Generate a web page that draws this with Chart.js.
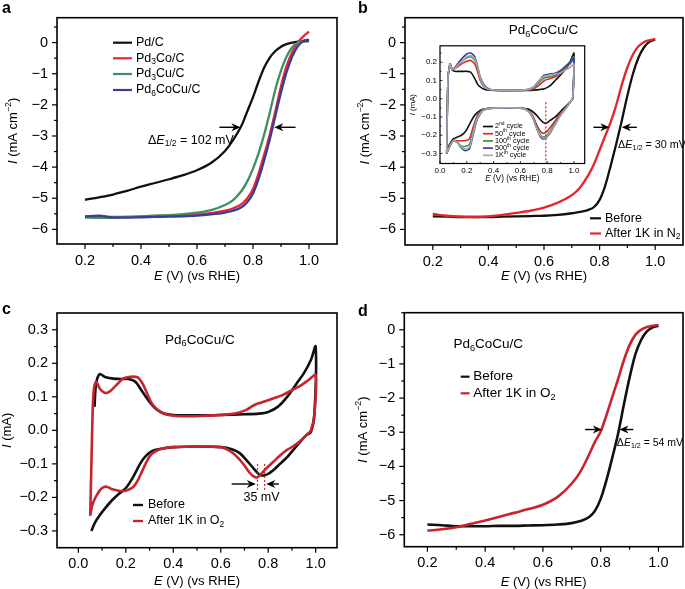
<!DOCTYPE html>
<html><head><meta charset="utf-8">
<script src="https://cdn.jsdelivr.net/npm/chart.js@4.4.1/dist/chart.umd.min.js"></script>
<style>
html,body{margin:0;padding:0;background:#fff;}
#wrap{position:relative;width:685px;height:589px;overflow:hidden;background:#fff;}
canvas{position:absolute;}
</style></head><body>
<div id="wrap">
<canvas id="ca" width="342" height="295" style="left:0px;top:0px"></canvas>
<canvas id="cb" width="343" height="295" style="left:342px;top:0px"></canvas>
<canvas id="cc" width="342" height="294" style="left:0px;top:295px"></canvas>
<canvas id="cd" width="343" height="294" style="left:342px;top:295px"></canvas>
<canvas id="ci" width="195" height="152" style="left:395px;top:38px"></canvas>
</div>
<script>
// ---------------- DATA ----------------
// Panel a : ORR polarization curves
const A_E = [0.2,0.25,0.3,0.35,0.4,0.45,0.5,0.55,0.6,0.65,0.7,0.73,0.76,0.78,0.8,0.82,0.84,0.86,0.88,0.9,0.92,0.94,0.96,0.98,1.0];
const A_PD = [-5.05,-4.97,-4.88,-4.76,-4.63,-4.51,-4.39,-4.26,-4.1,-3.87,-3.48,-3.12,-2.65,-2.2,-1.75,-1.25,-0.8,-0.48,-0.27,-0.13,-0.05,0.0,0.03,0.04,0.05];
const A_PD3CO = [-5.58,-5.58,-5.6,-5.6,-5.59,-5.57,-5.56,-5.54,-5.52,-5.48,-5.4,-5.32,-5.18,-5.0,-4.7,-4.2,-3.6,-2.95,-2.2,-1.4,-0.75,-0.3,0.0,0.2,0.35];
const A_PD3CU = [-5.62,-5.63,-5.62,-5.6,-5.58,-5.56,-5.54,-5.51,-5.46,-5.38,-5.22,-5.05,-4.75,-4.45,-4.05,-3.55,-2.95,-2.25,-1.5,-0.9,-0.45,-0.15,0.0,0.06,0.08];
const A_PD6COCU = [-5.58,-5.56,-5.62,-5.62,-5.61,-5.6,-5.59,-5.58,-5.56,-5.52,-5.46,-5.4,-5.28,-5.12,-4.85,-4.38,-3.78,-3.1,-2.35,-1.6,-0.95,-0.45,-0.12,0.05,0.1];

// Panel b : before / after 1K cycles in N2
const B_E = [0.2,0.25,0.3,0.35,0.4,0.45,0.5,0.55,0.6,0.65,0.7,0.73,0.76,0.78,0.8,0.82,0.84,0.86,0.88,0.9,0.92,0.94,0.96,0.98,1.0];
const B_BEFORE = [-5.58,-5.59,-5.6,-5.6,-5.6,-5.59,-5.58,-5.57,-5.56,-5.53,-5.48,-5.44,-5.37,-5.28,-5.05,-4.6,-3.95,-3.25,-2.5,-1.7,-1.0,-0.48,-0.15,0.03,0.1];
const B_AFTER = [-5.5,-5.56,-5.59,-5.6,-5.58,-5.53,-5.47,-5.4,-5.3,-5.14,-4.9,-4.65,-4.25,-3.9,-3.45,-3.0,-2.55,-2.0,-1.35,-0.8,-0.38,-0.12,0.02,0.08,0.12];

// Panel b inset : CVs over cycling (anodic sweep then cathodic sweep)
const INSET_AN_E = [0.05,0.06,0.075,0.09,0.11,0.14,0.17,0.2,0.23,0.26,0.28,0.3,0.33,0.37,0.45,0.55,0.65,0.7,0.74,0.78,0.82,0.86,0.9,0.94,0.97,1.0];
const INSET_CA_E = [0.99,0.97,0.94,0.9,0.86,0.82,0.79,0.77,0.75,0.72,0.69,0.66,0.62,0.55,0.45,0.37,0.32,0.28,0.25,0.22,0.19,0.16,0.13,0.1,0.08,0.06,0.05];
const C2_AN = [-0.30,0.12,0.19,0.16,0.15,0.15,0.15,0.15,0.145,0.11,0.08,0.065,0.052,0.046,0.045,0.045,0.045,0.047,0.05,0.055,0.07,0.1,0.13,0.165,0.2,0.25];
const C2_CA = [0.0,-0.02,-0.04,-0.07,-0.1,-0.12,-0.135,-0.13,-0.115,-0.09,-0.07,-0.057,-0.052,-0.05,-0.05,-0.052,-0.058,-0.075,-0.1,-0.14,-0.18,-0.2,-0.21,-0.22,-0.24,-0.27,-0.30];
const C50_AN = [-0.30,0.12,0.19,0.16,0.165,0.18,0.195,0.205,0.21,0.19,0.15,0.1,0.065,0.05,0.045,0.045,0.047,0.055,0.075,0.1,0.11,0.12,0.14,0.17,0.19,0.22];
const C50_CA = [0.0,-0.02,-0.05,-0.08,-0.12,-0.16,-0.185,-0.19,-0.18,-0.14,-0.09,-0.065,-0.053,-0.05,-0.05,-0.052,-0.06,-0.09,-0.15,-0.22,-0.23,-0.23,-0.23,-0.23,-0.25,-0.28,-0.30];
const C100_AN = [-0.30,0.12,0.19,0.16,0.17,0.19,0.21,0.225,0.23,0.21,0.17,0.11,0.07,0.05,0.045,0.045,0.048,0.06,0.09,0.115,0.12,0.13,0.15,0.175,0.2,0.23];
const C100_CA = [0.0,-0.02,-0.05,-0.09,-0.13,-0.18,-0.205,-0.21,-0.2,-0.15,-0.1,-0.068,-0.053,-0.05,-0.05,-0.053,-0.062,-0.1,-0.17,-0.25,-0.26,-0.26,-0.24,-0.23,-0.25,-0.28,-0.30];
const C500_AN = [-0.30,0.12,0.19,0.16,0.17,0.2,0.225,0.245,0.25,0.23,0.18,0.12,0.075,0.052,0.045,0.045,0.05,0.065,0.1,0.13,0.135,0.14,0.155,0.18,0.2,0.22];
const C500_CA = [0.0,-0.02,-0.05,-0.09,-0.14,-0.19,-0.215,-0.22,-0.21,-0.16,-0.1,-0.07,-0.053,-0.05,-0.05,-0.053,-0.065,-0.11,-0.19,-0.275,-0.285,-0.27,-0.24,-0.23,-0.25,-0.28,-0.30];
const C1K_AN = [-0.30,0.12,0.19,0.16,0.165,0.19,0.21,0.23,0.235,0.22,0.175,0.115,0.07,0.05,0.045,0.045,0.05,0.065,0.1,0.125,0.13,0.135,0.14,0.16,0.17,0.19];
const C1K_CA = [0.0,-0.02,-0.05,-0.09,-0.14,-0.185,-0.21,-0.215,-0.205,-0.16,-0.1,-0.07,-0.053,-0.05,-0.05,-0.053,-0.065,-0.105,-0.18,-0.265,-0.275,-0.265,-0.24,-0.23,-0.25,-0.28,-0.30];

// Panel c : CV before / after 1K cycles in O2
const C_BEFORE_E = [0.068,0.075,0.09,0.11,0.14,0.18,0.21,0.24,0.27,0.3,0.33,0.36,0.4,0.5,0.6,0.7,0.76,0.8,0.84,0.88,0.92,0.95,0.98,1.0,0.995,0.98,0.96,0.94,0.91,0.88,0.85,0.82,0.8,0.78,0.76,0.74,0.71,0.68,0.65,0.6,0.5,0.4,0.35,0.31,0.28,0.26,0.23,0.2,0.17,0.14,0.11,0.09,0.07,0.055];
const C_BEFORE_I = [0.07,0.14,0.168,0.16,0.155,0.153,0.153,0.145,0.115,0.085,0.062,0.05,0.046,0.045,0.046,0.048,0.05,0.055,0.07,0.1,0.14,0.17,0.21,0.25,0.05,-0.005,-0.015,-0.03,-0.055,-0.08,-0.1,-0.12,-0.13,-0.135,-0.13,-0.115,-0.09,-0.068,-0.057,-0.05,-0.048,-0.05,-0.055,-0.062,-0.08,-0.1,-0.14,-0.172,-0.19,-0.21,-0.235,-0.253,-0.275,-0.3];
const C_AFTER_E = [0.05,0.055,0.06,0.065,0.075,0.09,0.11,0.13,0.16,0.19,0.22,0.25,0.27,0.29,0.31,0.34,0.38,0.45,0.55,0.62,0.67,0.71,0.74,0.78,0.82,0.86,0.9,0.94,0.97,1.0,0.995,0.98,0.96,0.93,0.9,0.88,0.85,0.82,0.79,0.77,0.755,0.74,0.72,0.7,0.67,0.64,0.6,0.5,0.4,0.35,0.31,0.29,0.27,0.25,0.23,0.2,0.17,0.14,0.12,0.1,0.08,0.06,0.05];
const C_AFTER_I = [-0.255,-0.1,0.05,0.12,0.145,0.125,0.112,0.115,0.135,0.155,0.16,0.158,0.14,0.11,0.08,0.058,0.046,0.042,0.044,0.047,0.052,0.062,0.075,0.085,0.095,0.105,0.12,0.135,0.15,0.165,0.05,0.0,-0.015,-0.035,-0.05,-0.058,-0.075,-0.095,-0.115,-0.13,-0.14,-0.138,-0.125,-0.105,-0.08,-0.062,-0.05,-0.048,-0.05,-0.055,-0.07,-0.09,-0.12,-0.15,-0.17,-0.18,-0.18,-0.175,-0.168,-0.172,-0.19,-0.22,-0.255];

// Panel d : before / after 1K cycles in O2
const D_E = [0.2,0.25,0.3,0.35,0.4,0.45,0.5,0.55,0.6,0.65,0.7,0.73,0.76,0.78,0.8,0.82,0.84,0.86,0.88,0.9,0.92,0.94,0.96,0.98,1.0];
const D_BEFORE = [-5.7,-5.72,-5.75,-5.75,-5.75,-5.74,-5.74,-5.73,-5.72,-5.7,-5.66,-5.6,-5.48,-5.3,-4.95,-4.4,-3.75,-3.05,-2.2,-1.4,-0.72,-0.3,-0.05,0.07,0.12];
const D_AFTER = [-5.88,-5.84,-5.78,-5.68,-5.58,-5.47,-5.36,-5.25,-5.12,-4.9,-4.5,-4.15,-3.65,-3.28,-2.98,-2.5,-1.97,-1.45,-0.9,-0.45,-0.15,0.0,0.08,0.12,0.14];

// Tick values and labels
const ORR_XTICKS = [0.2,0.4,0.6,0.8,1.0];
const ORR_XLABELS = ['0.2','0.4','0.6','0.8','1.0'];
const ORR_XMINOR = [0.3,0.5,0.7,0.9];
const ORR_YTICKS = [-6,-5,-4,-3,-2,-1,0];
const ORR_YLABELS = ['\u22126','\u22125','\u22124','\u22123','\u22122','\u22121','0'];
const ORR_YMINOR = [-5.5,-4.5,-3.5,-2.5,-1.5,-0.5,0.5];
const CV_XTICKS = [0,0.2,0.4,0.6,0.8,1.0];
const CV_XLABELS = ['0.0','0.2','0.4','0.6','0.8','1.0'];
const CV_XMINOR = [0.1,0.3,0.5,0.7,0.9];
const CV_YTICKS = [-0.3,-0.2,-0.1,0,0.1,0.2,0.3];
const CV_YLABELS = ['\u22120.3','\u22120.2','\u22120.1','0.0','0.1','0.2','0.3'];
const CV_YMINOR = [-0.25,-0.15,-0.05,0.05,0.15,0.25];
const IN_YTICKS = [-0.3,-0.2,-0.1,0,0.1,0.2];
const IN_YLABELS = ['\u22120.3','\u22120.2','\u22120.1','0.0','0.1','0.2'];
const IN_YMINOR = [-0.25,-0.15,-0.05,0.05,0.15,0.25];

// ---------------- DRAWING HELPERS ----------------
const FONT = '"Liberation Sans", Arial, Helvetica, sans-serif';
function pts(xs, ys) { return xs.map((x, i) => ({ x: x, y: ys[i] })); }
function measureRuns(ctx, parts, size) {
  return parts.map(p => {
    const t = p[0], st = (p[1] || '').split(' ');
    const small = st.includes('sub') || st.includes('sup');
    const fs = small ? size * 0.68 : size;
    const font = (st.includes('it') ? 'italic ' : '') + (st.includes('bold') ? 'bold ' : '') + fs + 'px ' + FONT;
    ctx.font = font;
    const dy = st.includes('sub') ? size * 0.28 : (st.includes('sup') ? -size * 0.36 : 0);
    return { t: t, font: font, dy: dy, w: ctx.measureText(t).width };
  });
}
function rich(ctx, parts, x, y, size, align, rot) {
  ctx.save();
  ctx.translate(x, y);
  if (rot) ctx.rotate(rot);
  const r = measureRuns(ctx, parts, size);
  const W = r.reduce((a, b) => a + b.w, 0);
  let cx = align === 'center' ? -W / 2 : (align === 'right' ? -W : 0);
  ctx.fillStyle = '#000'; ctx.textBaseline = 'middle'; ctx.textAlign = 'left';
  r.forEach(q => { ctx.font = q.font; ctx.fillText(q.t, cx, q.dy); cx += q.w; });
  ctx.restore();
}
function arrow(ctx, x1, x2, y) {
  const dir = Math.sign(x2 - x1), hl = 9, hw = 4;
  ctx.save(); ctx.strokeStyle = '#000'; ctx.fillStyle = '#000'; ctx.lineWidth = 1.4;
  ctx.beginPath(); ctx.moveTo(x1, y); ctx.lineTo(x2 - dir * hl * 0.7, y); ctx.stroke();
  ctx.beginPath(); ctx.moveTo(x2, y); ctx.lineTo(x2 - dir * hl, y - hw); ctx.lineTo(x2 - dir * hl * 0.7, y); ctx.lineTo(x2 - dir * hl, y + hw); ctx.closePath(); ctx.fill();
  ctx.restore();
}

function buildPanel(id, P) {
  const datasets = P.series.map((s, i) => ({
    label: s.name, data: pts(s.x, s.y), borderColor: s.color, backgroundColor: s.color,
    borderWidth: s.lw, pointRadius: 0, pointHoverRadius: 0, fill: false,
    tension: s.tension, cubicInterpolationMode: s.mono ? 'monotone' : 'default',
    order: P.series.length - i
  }));
  function axis(A, isX) {
    return {
      type: 'linear', min: A.min, max: A.max, bounds: 'data',
      grid: { display: false, drawTicks: false }, border: { display: false },
      ticks: { color: '#000', font: { family: FONT, size: P.tickSize }, padding: A.pad,
        autoSkip: false, maxRotation: 0, minRotation: 0, callback: (v, i) => A.labels[i] },
      afterBuildTicks: s => { s.ticks = A.ticks.map(v => ({ value: v })); },
      afterFit: s => { if (isX) s.height = A.size; else s.width = A.size; }
    };
  }
  const plugin = {
    id: 'deco_' + id,
    beforeDraw(chart) {
      if (P.whiteBg) {
        const a = chart.chartArea, c = chart.ctx;
        c.save(); c.fillStyle = '#fff'; c.fillRect(a.left, a.top, a.right - a.left, a.bottom - a.top); c.restore();
      }
    },
    afterDraw(chart) {
      const c = chart.ctx, a = chart.chartArea, sx = chart.scales.x, sy = chart.scales.y;
      c.save();
      c.strokeStyle = '#000'; c.lineWidth = P.tickW;
      const td = P.tickDir;
      const tk = (list, len, isX) => list.forEach(v => {
        c.beginPath();
        if (isX) { const p = sx.getPixelForValue(v); c.moveTo(p, a.bottom); c.lineTo(p, a.bottom + td * len); }
        else { const p = sy.getPixelForValue(v); c.moveTo(a.left, p); c.lineTo(a.left - td * len, p); }
        c.stroke();
      });
      tk(P.x.ticks, P.majorLen, true); tk(P.x.minor, P.minorLen, true);
      tk(P.y.ticks, P.majorLen, false); tk(P.y.minor, P.minorLen, false);
      c.lineWidth = P.frameW;
      c.strokeRect(a.left, a.top, a.right - a.left, a.bottom - a.top);
      (P.dotted || []).forEach(d => {
        c.save(); c.strokeStyle = d.color; c.lineWidth = 1.2; c.setLineDash([2, 2]);
        const px = sx.getPixelForValue(d.x);
        c.beginPath(); c.moveTo(px, sy.getPixelForValue(d.y1)); c.lineTo(px, sy.getPixelForValue(d.y2)); c.stroke();
        c.restore();
      });
      (P.arrows || []).forEach(r => arrow(c, sx.getPixelForValue(r.x1), sx.getPixelForValue(r.x2), sy.getPixelForValue(r.y)));
      (P.texts || []).forEach(t => rich(c, t.parts, sx.getPixelForValue(t.x), sy.getPixelForValue(t.y), t.size, t.align));
      if (P.legend) {
        const L = P.legend;
        L.rows.forEach((r, i) => {
          c.save(); c.strokeStyle = P.series[r.s].color; c.lineWidth = L.lw;
          c.beginPath(); c.moveTo(L.x0, L.y[i]); c.lineTo(L.x1, L.y[i]); c.stroke(); c.restore();
          rich(c, r.parts, L.tx, L.y[i], L.size, 'left');
        });
      }
      rich(c, P.xTitle.parts, (a.left + a.right) / 2, P.xTitle.y, P.xTitle.size, 'center');
      rich(c, P.yTitle.parts, P.yTitle.x, (a.top + a.bottom) / 2, P.yTitle.size, 'center', -Math.PI / 2);
      if (P.letter) {
        c.font = 'bold ' + P.letter.size + 'px ' + FONT; c.fillStyle = '#000';
        c.textBaseline = 'middle'; c.textAlign = 'left';
        c.fillText(P.letter.t, P.letter.x, P.letter.y);
      }
      c.restore();
    }
  };
  return new Chart(document.getElementById(id), {
    type: 'line',
    data: { datasets: datasets },
    options: {
      responsive: false, animation: false, devicePixelRatio: 1,
      events: [],
      layout: { padding: P.padding },
      plugins: { legend: { display: false }, tooltip: { enabled: false } },
      scales: { x: axis(P.x, true), y: axis(P.y, false) }
    },
    plugins: [plugin]
  });
}

const X_TITLE = [['E', 'it'], [' (V) (vs RHE)']];
const Y_TITLE_ORR = [['I', 'it'], [' (mA cm'], ['\u22122', 'sup'], [')']];
const Y_TITLE_CV = [['I', 'it'], [' (mA)']];
const TITLE_PD6 = [['Pd'], ['6', 'sub'], ['CoCu/C']];
const BLK = '#111111';

// ---------------- PANEL a ----------------
buildPanel('ca', {
  padding: { left: 0, top: 10, right: 5, bottom: 0 },
  tickSize: 14.5, tickW: 1.2, tickDir: 1, majorLen: 5, minorLen: 3, frameW: 1.6,
  x: { min: 0.1, max: 1.1, ticks: ORR_XTICKS, labels: ORR_XLABELS, minor: ORR_XMINOR, pad: 8, size: 51 },
  y: { min: -6.47, max: 0.8, ticks: ORR_YTICKS, labels: ORR_YLABELS, minor: ORR_YMINOR, pad: 9, size: 57 },
  series: [
    { name: 'Pd/C', x: A_E, y: A_PD, color: BLK, lw: 2.3, mono: true },
    { name: 'Pd3Co/C', x: A_E, y: A_PD3CO, color: '#e8262b', lw: 2.3, mono: true },
    { name: 'Pd3Cu/C', x: A_E, y: A_PD3CU, color: '#3f8f62', lw: 2.3, mono: true },
    { name: 'Pd6CoCu/C', x: A_E, y: A_PD6COCU, color: '#3a3c9c', lw: 2.3, mono: true }
  ],
  arrows: [{ x1: 0.68, x2: 0.755, y: -2.72 }, { x1: 0.952, x2: 0.876, y: -2.72 }],
  texts: [{ x: 0.425, y: -3.14, size: 12.5, align: 'left', parts: [['\u0394'], ['E', 'it'], ['1/2', 'sub'], [' = 102 mV']] }],
  legend: { x0: 113, x1: 132, tx: 136, lw: 2.2, size: 12.5, y: [42.7, 58.3, 74, 90],
    rows: [{ s: 0, parts: [['Pd/C']] }, { s: 1, parts: [['Pd'], ['3', 'sub'], ['Co/C']] },
           { s: 2, parts: [['Pd'], ['3', 'sub'], ['Cu/C']] }, { s: 3, parts: [['Pd'], ['6', 'sub'], ['CoCu/C']] }] },
  xTitle: { parts: X_TITLE, y: 276.5, size: 13 },
  yTitle: { parts: Y_TITLE_ORR, x: 13, size: 13 },
  letter: { t: 'a', x: 2, y: 9, size: 16 }
});

// ---------------- PANEL b ----------------
buildPanel('cb', {
  padding: { left: 0, top: 10, right: 2, bottom: 0 },
  tickSize: 14.5, tickW: 1.2, tickDir: 1, majorLen: 5, minorLen: 3, frameW: 1.6,
  x: { min: 0.1, max: 1.1, ticks: ORR_XTICKS, labels: ORR_XLABELS, minor: ORR_XMINOR, pad: 8, size: 50 },
  y: { min: -6.5, max: 0.8, ticks: ORR_YTICKS, labels: ORR_YLABELS, minor: ORR_YMINOR, pad: 9, size: 63 },
  series: [
    { name: 'Before', x: B_E, y: B_BEFORE, color: BLK, lw: 2.3, mono: true },
    { name: 'After 1K in N2', x: B_E, y: B_AFTER, color: '#e4262c', lw: 2.3, mono: true }
  ],
  arrows: [{ x1: 0.778, x2: 0.835, y: -2.72 }, { x1: 0.934, x2: 0.88, y: -2.72 }],
  texts: [
    { x: 0.866, y: -3.29, size: 10.8, align: 'left', parts: [['\u0394'], ['E', 'it'], ['1/2', 'sub'], [' = 30 mV']] },
    { x: 0.598, y: 0.385, size: 13.5, align: 'center', parts: TITLE_PD6 }
  ],
  legend: { x0: 248, x1: 259, tx: 263, lw: 2.2, size: 12.5, y: [218.3, 233.5],
    rows: [{ s: 0, parts: [['Before']] }, { s: 1, parts: [['After 1K in N'], ['2', 'sub']] }] },
  xTitle: { parts: X_TITLE, y: 276.5, size: 13 },
  yTitle: { parts: Y_TITLE_ORR, x: 23, size: 13 },
  letter: { t: 'b', x: 16, y: 9, size: 16 }
});

// ---------------- PANEL b inset ----------------
buildPanel('ci', {
  whiteBg: true,
  padding: { left: 0, top: 7.5, right: 5.3, bottom: 0 },
  tickSize: 8, tickW: 0.8, tickDir: -1, majorLen: 2.5, minorLen: 1.5, frameW: 1.2,
  x: { min: 0, max: 1.08, ticks: CV_XTICKS, labels: CV_XLABELS, minor: CV_XMINOR, pad: 2, size: 26.5 },
  y: { min: -0.355, max: 0.29, ticks: IN_YTICKS, labels: IN_YLABELS, minor: IN_YMINOR, pad: 3, size: 45 },
  series: [
    { name: '2nd cycle', x: INSET_AN_E.concat(INSET_CA_E), y: C2_AN.concat(C2_CA), color: '#111111', lw: 1.6, tension: 0.2 },
    { name: '50th cycle', x: INSET_AN_E.concat(INSET_CA_E), y: C50_AN.concat(C50_CA), color: '#e3262a', lw: 1.6, tension: 0.2 },
    { name: '100th cycle', x: INSET_AN_E.concat(INSET_CA_E), y: C100_AN.concat(C100_CA), color: '#2e9a3e', lw: 1.6, tension: 0.2 },
    { name: '500th cycle', x: INSET_AN_E.concat(INSET_CA_E), y: C500_AN.concat(C500_CA), color: '#3a3fae', lw: 1.6, tension: 0.2 },
    { name: '1Kth cycle', x: INSET_AN_E.concat(INSET_CA_E), y: C1K_AN.concat(C1K_CA), color: '#a6a6a6', lw: 1.6, tension: 0.2 }
  ],
  dotted: [{ x: 0.79, y1: -0.02, y2: -0.355, color: '#d0202a' }],
  legend: { x0: 88, x1: 98, tx: 100, lw: 1.7, size: 7.2, y: [88.5, 95.7, 102.9, 110.1, 117.3],
    rows: [{ s: 0, parts: [['2'], ['nd', 'sup'], [' cycle']] }, { s: 1, parts: [['50'], ['th', 'sup'], [' cycle']] },
           { s: 2, parts: [['100'], ['th', 'sup'], [' cycle']] }, { s: 3, parts: [['500'], ['th', 'sup'], [' cycle']] },
           { s: 4, parts: [['1K'], ['th', 'sup'], [' cycle']] }] },
  xTitle: { parts: X_TITLE, y: 140.5, size: 8.2 },
  yTitle: { parts: Y_TITLE_CV, x: 18, size: 7.8 }
});

// ---------------- PANEL c ----------------
buildPanel('cc', {
  padding: { left: 0, top: 18, right: 5, bottom: 0 },
  tickSize: 14.5, tickW: 1.2, tickDir: 1, majorLen: 5, minorLen: 3, frameW: 1.6,
  x: { min: -0.09, max: 1.09, ticks: CV_XTICKS, labels: CV_XLABELS, minor: CV_XMINOR, pad: 8, size: 41.3 },
  y: { min: -0.35, max: 0.35, ticks: CV_YTICKS, labels: CV_YLABELS, minor: CV_YMINOR, pad: 9, size: 57 },
  series: [
    { name: 'Before', x: C_BEFORE_E, y: C_BEFORE_I, color: BLK, lw: 2.6, tension: 0.3 },
    { name: 'After 1K in O2', x: C_AFTER_E, y: C_AFTER_I, color: '#c8242f', lw: 2.6, tension: 0.3 }
  ],
  dotted: [{ x: 0.755, y1: -0.1, y2: -0.18, color: '#d0202a' }, { x: 0.785, y1: -0.1, y2: -0.18, color: '#d0202a' }],
  arrows: [{ x1: 0.646, x2: 0.748, y: -0.16 }, { x1: 0.845, x2: 0.792, y: -0.16 }],
  texts: [
    { x: 0.772, y: -0.2, size: 12.5, align: 'center', parts: [['35 mV']] },
    { x: 0.512, y: 0.27, size: 13.5, align: 'center', parts: TITLE_PD6 }
  ],
  legend: { x0: 133, x1: 143, tx: 148, lw: 2.4, size: 12.5, y: [210, 226],
    rows: [{ s: 0, parts: [['Before']] }, { s: 1, parts: [['After 1K in O'], ['2', 'sub']] }] },
  xTitle: { parts: X_TITLE, y: 286.5, size: 13 },
  yTitle: { parts: Y_TITLE_CV, x: 7, size: 13 },
  letter: { t: 'c', x: 2, y: 15, size: 16 }
});

// ---------------- PANEL d ----------------
buildPanel('cd', {
  padding: { left: 0, top: 15, right: 2, bottom: 0 },
  tickSize: 14.5, tickW: 1.2, tickDir: 1, majorLen: 5, minorLen: 3, frameW: 1.6,
  x: { min: 0.12, max: 1.085, ticks: ORR_XTICKS, labels: ORR_XLABELS, minor: ORR_XMINOR, pad: 8, size: 42.3 },
  y: { min: -6.35, max: 0.5, ticks: ORR_YTICKS, labels: ORR_YLABELS, minor: ORR_YMINOR, pad: 9, size: 62.3 },
  series: [
    { name: 'Before', x: D_E, y: D_BEFORE, color: BLK, lw: 2.6, mono: true },
    { name: 'After 1K in O2', x: D_E, y: D_AFTER, color: '#c8242f', lw: 2.6, mono: true }
  ],
  arrows: [{ x1: 0.746, x2: 0.804, y: -2.92 }, { x1: 0.913, x2: 0.865, y: -2.92 }],
  texts: [
    { x: 0.856, y: -3.32, size: 10.5, align: 'left', parts: [['\u0394'], ['E', 'it'], ['1/2', 'sub'], [' = 54 mV']] },
    { x: 0.29, y: -0.43, size: 13.5, align: 'left', parts: TITLE_PD6 }
  ],
  legend: { x0: 118.7, x1: 127.5, tx: 131.3, lw: 2.2, size: 13.5, y: [81.7, 98.3],
    rows: [{ s: 0, parts: [['Before']] }, { s: 1, parts: [['After 1K in O'], ['2', 'sub']] }] },
  xTitle: { parts: X_TITLE, y: 287.3, size: 13 },
  yTitle: { parts: Y_TITLE_ORR, x: 21.3, size: 13 },
  letter: { t: 'd', x: 16, y: 16.7, size: 16 }
});
</script>
</body></html>
